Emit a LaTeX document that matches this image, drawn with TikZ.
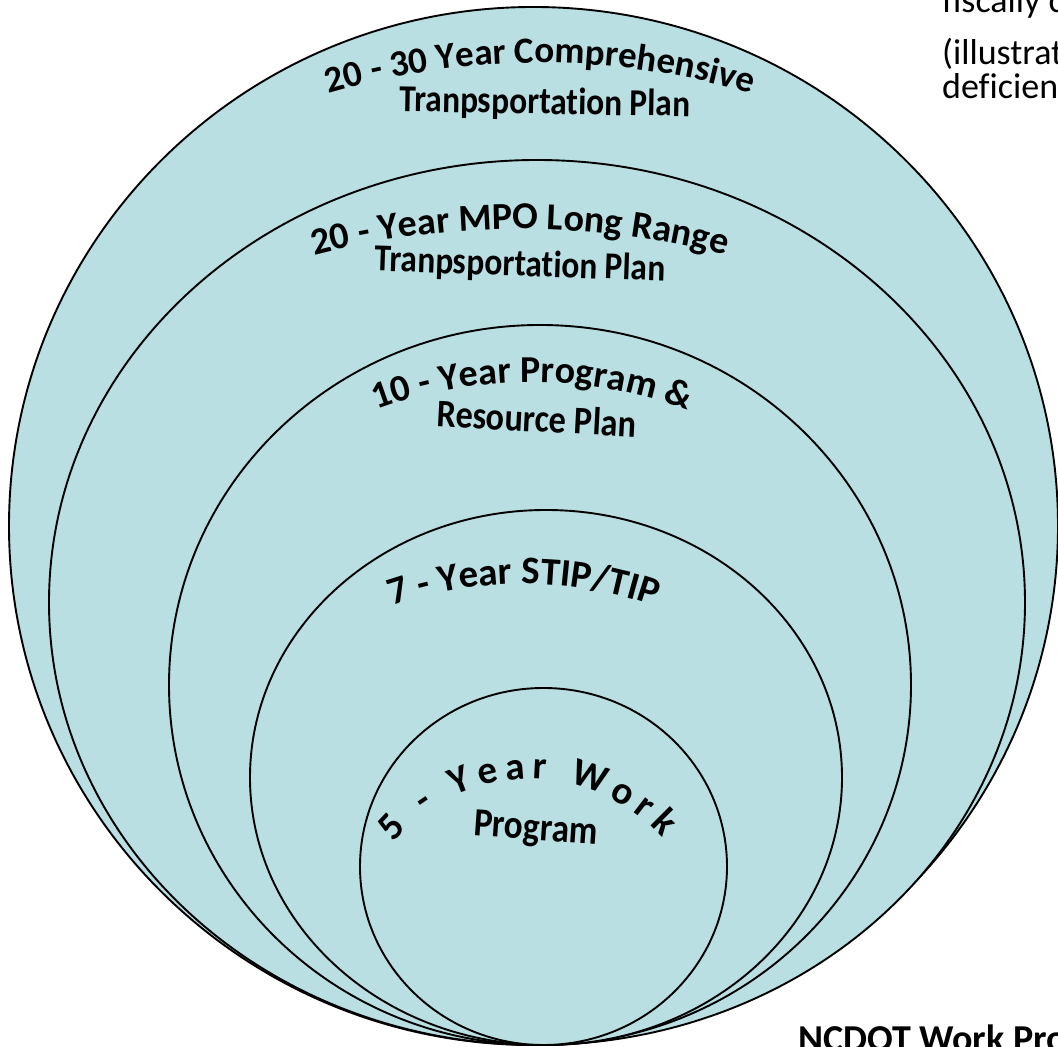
\documentclass[tikz,border=0pt]{standalone}
\usepackage{fontspec}
\setmainfont{Carlito}[Ligatures=NoCommon]
\newfontfamily\condfont{Carlito}[Ligatures=NoCommon, FakeStretch=0.88]
\usetikzlibrary{shapes.geometric,decorations.text}
\definecolor{ringfill}{HTML}{B9DFE3}
\tikzset{
  ring/.style={ellipse, draw=black, line width=1.9pt, fill=ringfill, inner sep=0pt, outer sep=0pt},
  arctext/.style={decorate, decoration={text along path, text align=center, text={#1}}},
  fitarctext/.style={decorate, decoration={text along path, text align={fit to path}, text={#1}}},
  flatlabel/.style={anchor=base, inner sep=0pt, font=\condfont\bfseries\fontsize{#1}{#1}\selectfont},
  sidetext/.style={anchor=base west, inner sep=0pt, font=\fontsize{36}{36}\selectfont},
}
\begin{document}
\begin{tikzpicture}[x=1pt,y=1pt]
\useasboundingbox (0,0) rectangle (1058,1047);
\clip (0,0) rectangle (1058,1047);
% nested plans
\node[ring, minimum width=1049pt, minimum height=1038pt] (c30) at (533.5,521) {};
\node[ring, minimum width=976pt, minimum height=885pt] (c20) at (537,444.5) {};
\node[ring, minimum width=742pt, minimum height=720pt] (c10) at (540,362) {};
\node[ring, minimum width=592pt, minimum height=535pt] (c7) at (546,269.5) {};
\node[ring, minimum width=367pt, minimum height=357pt] (c5) at (543.5,180.5) {};
% labels
\path[arctext={|\bfseries\fontsize{37}{37}\selectfont|20 - 30 Year Comprehensive}]
  (540,234) ++(112:750) arc[start angle=112, end angle=68, radius=750];
\node[flatlabel=38, rotate=-1] (l30) at (545,933) {Tranpsportat\kern0pt ion Plan};
\path[arctext={|\bfseries\fontsize{38}{38}\selectfont|20 - Year MPO Long Range}]
  (520,-3) ++(110:821) arc[start angle=110, end angle=70, radius=821];
\node[flatlabel=38, rotate=-2] (l20) at (520,771) {Tranpsportat\kern0pt ion Plan};
\path[arctext={|\bfseries\fontsize{38}{38}\selectfont|10 - Year Program {\&}}]
  (532,220) ++(120:445) arc[start angle=120, end angle=60, radius=445];
\node[flatlabel=39, rotate=-3] (l10) at (536,615) {Resource Plan};
\path[arctext={|\bfseries\fontsize{39}{39}\selectfont|7 - Year STIP/TIP}]
  (524,63) ++(118:400) arc[start angle=118, end angle=62, radius=400];
\path[fitarctext={|\bfseries\fontsize{39}{39}\selectfont|5 - Year Work}]
  (530,90) ++(140:178) arc[start angle=140, end angle=42, radius=178];
\node[flatlabel=40, rotate=-4] (l5) at (535,207) {Program};
% side texts (cut by the slide edge)
\node[sidetext] (s1) at (942,1034) {fiscally c};
\node[sidetext] (s2) at (942,982) {(illustrat};
\node[sidetext] (s3) at (942,948) {deficien};
\node[anchor=base west, inner sep=0pt, font=\bfseries\fontsize{38}{38}\selectfont] (s4) at (798,-5) {NCDOT Work Pro};
\end{tikzpicture}
\end{document}
